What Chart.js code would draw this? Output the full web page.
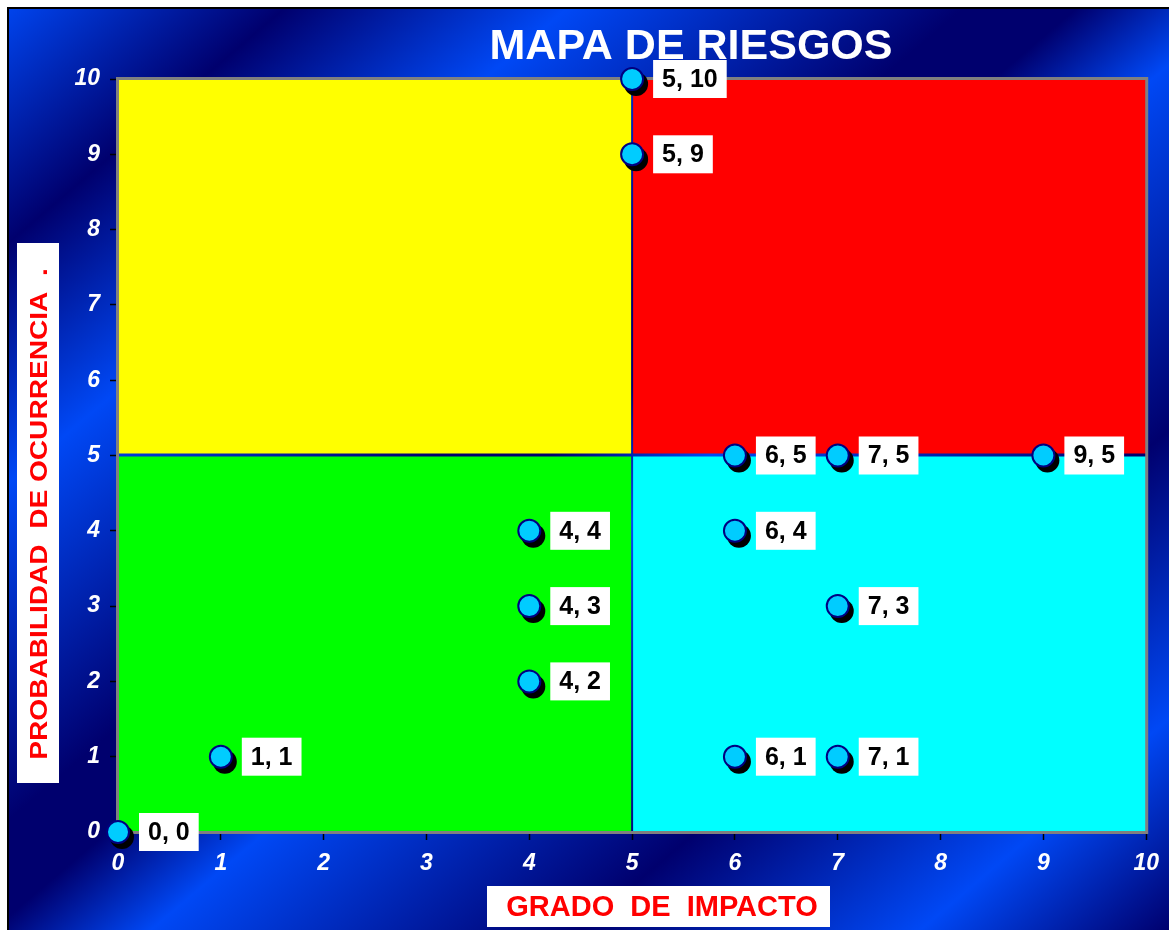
<!DOCTYPE html>
<html>
<head>
<meta charset="utf-8">
<script src="https://cdn.jsdelivr.net/npm/chart.js@4/dist/chart.umd.min.js"></script>
<style>
  html, body { margin: 0; padding: 0; background: #ffffff; }
  #frame { position: absolute; left: 7px; top: 7px; border-top: 2px solid #000; border-left: 2px solid #000; width: 1160px; height: 921px; }
  #c { display: block; }
</style>
</head>
<body>
<div id="frame"><canvas id="c" width="1160" height="921"></canvas></div>
<script>
// ---- data ----
const chartTitle = "MAPA DE RIESGOS";
const xAxisTitle = "GRADO  DE  IMPACTO";
const yAxisTitle = "PROBABILIDAD  DE OCURRENCIA  .";
const impacto      = [0, 1, 4, 4, 4, 5, 5, 6, 6, 6, 7, 7, 7, 9];
const probabilidad = [0, 1, 2, 3, 4, 9, 10, 1, 4, 5, 1, 3, 5, 5];
const axisMin = 0, axisMax = 10, axisStep = 1;
// zones: [xFrom, xTo], [yFrom, yTo]
const zoneX = [[0, 5], [5, 10], [0, 5], [5, 10]];
const zoneY = [[5, 10], [5, 10], [0, 5], [0, 5]];

const zoneColors = ["#ffff00", "#ff0000", "#00ff00", "#00ffff"];
const points = impacto.map((x, i) => ({ x: x, y: probabilidad[i] }));
const FONT = "'Liberation Sans', Arial, sans-serif";

const bgPlugin = {
  id: "bg",
  beforeDraw(chart) {
    const ctx = chart.ctx, w = chart.width, h = chart.height;
    const g = ctx.createLinearGradient(-9, -9, -9 + 949.5, -9 + 1117);
    const B = "#0048f5", D = "#00006e";
    g.addColorStop(0.00, B);
    g.addColorStop(0.13, D);
    g.addColorStop(0.255, B);
    g.addColorStop(0.43, D);
    g.addColorStop(0.48, D);
    g.addColorStop(0.55, B);
    g.addColorStop(0.74, D);
    g.addColorStop(0.89, B);
    g.addColorStop(1.00, D);
    ctx.save();
    ctx.fillStyle = g;
    ctx.fillRect(0, 0, w, h);
    ctx.restore();
  },
  beforeDatasetsDraw(chart) {
    const ctx = chart.ctx, xs = chart.scales.x, ys = chart.scales.y;
    ctx.save();
    zoneX.forEach((zx, i) => {
      const zy = zoneY[i];
      let l = xs.getPixelForValue(zx[0]), r = xs.getPixelForValue(zx[1]);
      let t = ys.getPixelForValue(zy[1]), b = ys.getPixelForValue(zy[0]);
      if (zx[0] > axisMin) l += 1;
      if (zx[1] < axisMax) r -= 1;
      if (zy[0] > axisMin) b -= 2;
      if (zy[1] < axisMax) t += 1;
      ctx.fillStyle = zoneColors[i];
      ctx.fillRect(l, t, r - l, b - t);
    });
    const a = chart.chartArea;
    ctx.strokeStyle = "#808080";
    ctx.lineWidth = 3;
    ctx.strokeRect(a.left - 0.5, a.top - 0.5, a.right - a.left + 1, a.bottom - a.top + 1);
    // title
    ctx.fillStyle = "#ffffff";
    ctx.font = "bold 43px " + FONT;
    ctx.textAlign = "center";
    ctx.textBaseline = "middle";
    ctx.fillText(chartTitle, 682, 38);
    // x axis title
    ctx.fillStyle = "#ffffff";
    ctx.fillRect(478, 877, 343, 41);
    ctx.fillStyle = "#ff0000";
    ctx.font = "bold 29px " + FONT;
    ctx.fillText(xAxisTitle, 653, 899);
    // y axis title
    ctx.fillStyle = "#ffffff";
    ctx.fillRect(8, 234, 42, 540);
    ctx.translate(30, 505);
    ctx.rotate(-Math.PI / 2);
    ctx.scale(1.17, 1);
    ctx.fillStyle = "#ff0000";
    ctx.font = "bold 24px " + FONT;
    ctx.fillText(yAxisTitle, 0, 1);
    ctx.restore();
  },
  beforeDatasetDraw(chart) {
    const ctx = chart.ctx;
    const meta = chart.getDatasetMeta(0);
    ctx.save();
    ctx.fillStyle = "#000000";
    meta.data.forEach((el) => {
      ctx.beginPath();
      ctx.arc(el.x + 4, el.y + 5, 12, 0, Math.PI * 2);
      ctx.fill();
    });
    ctx.restore();
  },
  afterDatasetsDraw(chart) {
    const ctx = chart.ctx;
    const meta = chart.getDatasetMeta(0);
    ctx.save();
    ctx.font = "bold 25px " + FONT;
    ctx.textBaseline = "middle";
    ctx.textAlign = "left";
    meta.data.forEach((el, i) => {
      const txt = impacto[i] + ", " + probabilidad[i];
      const tw = ctx.measureText(txt).width;
      const bx = el.x + 21, by = el.y - 19;
      ctx.fillStyle = "#ffffff";
      ctx.fillRect(bx, by, tw + 18, 38);
      ctx.fillStyle = "#000000";
      ctx.fillText(txt, bx + 9, el.y + 1);
    });
    ctx.restore();
  }
};

const tickFont = { family: FONT, size: 23, weight: "bold", style: "italic" };

new Chart(document.getElementById("c"), {
  type: "scatter",
  data: {
    datasets: [{
      data: points,
      pointRadius: 11,
      pointHoverRadius: 11,
      pointBackgroundColor: "#00ccff",
      pointBorderColor: "#000080",
      pointBorderWidth: 2,
      clip: false
    }]
  },
  options: {
    responsive: false,
    animation: false,
    events: [],
    layout: { padding: { left: 0, right: 21, top: 70, bottom: 0 } },
    plugins: { legend: { display: false }, title: { display: false }, tooltip: { enabled: false } },
    scales: {
      x: {
        type: "linear",
        min: axisMin, max: axisMax,
        afterFit(s) { s.height = 98; },
        border: { display: false },
        grid: { drawOnChartArea: false, drawTicks: true, tickLength: 8, color: "#000000", tickWidth: 1.5 },
        ticks: { stepSize: axisStep, color: "#ffffff", font: tickFont, padding: 10, maxRotation: 0 }
      },
      y: {
        type: "linear",
        min: axisMin, max: axisMax,
        afterFit(s) { s.width = 109; },
        border: { display: false },
        grid: { drawOnChartArea: false, drawTicks: true, tickLength: 8, color: "#000000", tickWidth: 1.5 },
        ticks: { stepSize: axisStep, color: "#ffffff", font: tickFont, padding: 10 }
      }
    }
  },
  plugins: [bgPlugin]
});
</script>
</body>
</html>
